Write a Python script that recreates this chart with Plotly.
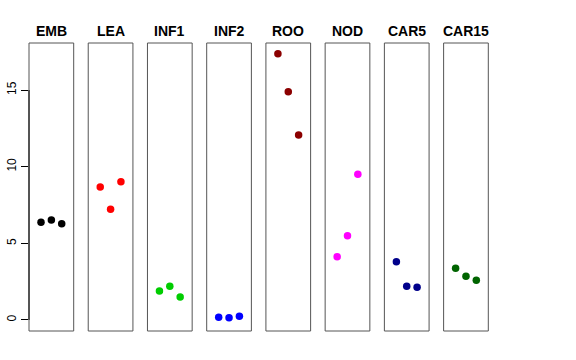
import plotly.graph_objects as go

tissues = ["EMB", "LEA", "INF1", "INF2", "ROO", "NOD", "CAR5", "CAR15"]
colors = ["#000000", "#FF0000", "#00CD00", "#0000FF", "#8B0000", "#FF00FF", "#00008B", "#006400"]
replicate = [1, 2, 3]
values = {
    "EMB": [6.37, 6.52, 6.28],
    "LEA": [8.68, 7.22, 9.02],
    "INF1": [1.89, 2.20, 1.50],
    "INF2": [0.17, 0.15, 0.24],
    "ROO": [17.37, 14.89, 12.07],
    "NOD": [4.13, 5.50, 9.50],
    "CAR5": [3.80, 2.20, 2.13],
    "CAR15": [3.37, 2.85, 2.59],
}
y_ticks = [0, 5, 10, 15]

W, H = 576, 360
ml, mt = 29, 43
pw, ph = 460, 288
mr, mb = W - ml - pw, H - mt - ph
step = 59.23
panel_w = 44.7

fig = go.Figure()
shapes = []
annotations = []
for i, t in enumerate(tissues):
    n = "" if i == 0 else str(i + 1)
    fig.add_trace(go.Scatter(
        x=replicate, y=values[t], mode="markers",
        marker=dict(color=colors[i], size=7.5),
        xaxis="x" + n, yaxis="y" + n, showlegend=False,
    ))
    d0 = i * step / pw
    d1 = (i * step + panel_w) / pw
    fig.layout["xaxis" + n] = dict(
        domain=[d0, d1], range=[-0.16, 4.16], showgrid=False, zeroline=False,
        showticklabels=False, ticks="", anchor="y" + n, fixedrange=True, automargin=False,
    )
    ycfg = dict(
        domain=[0, 1], range=[-0.72, 18.07], showgrid=False, zeroline=False,
        anchor="x" + n, fixedrange=True, automargin=False,
    )
    if i == 0:
        ycfg.update(tickmode="array", tickvals=y_ticks, ticktext=[str(v) for v in y_ticks],
                    ticks="outside", ticklen=7, tickcolor="#000000", tickwidth=1,
                    tickangle=-90, tickfont=dict(family="Liberation Sans, Arial", size=12, color="#000000"),
                    showticklabels=True)
    else:
        ycfg.update(showticklabels=False, ticks="")
    fig.layout["yaxis" + n] = ycfg
    shapes.append(dict(type="rect", xref="x" + n + " domain", yref="y" + n + " domain",
                       x0=0, x1=1, y0=0, y1=1, line=dict(color="#555555", width=1)))
    annotations.append(dict(text="<b>" + t + "</b>", xref="x" + n + " domain", yref="paper",
                            x=0.5, y=1, yshift=12, yanchor="middle", xanchor="center",
                            showarrow=False,
                            font=dict(family="Liberation Sans, Arial", size=14, color="#000000")))

shapes.append(dict(type="line", xref="x domain", yref="y", x0=0, x1=0, y0=0, y1=15,
                   line=dict(color="#000000", width=1)))

fig.update_layout(
    width=W, height=H, margin=dict(l=ml, r=mr, t=mt, b=mb, autoexpand=False),
    paper_bgcolor="white", plot_bgcolor="white",
    shapes=shapes, annotations=annotations,
)
fig.write_html("out.html", config={"displayModeBar": False},
               post_script="document.body.style.margin='0';")
